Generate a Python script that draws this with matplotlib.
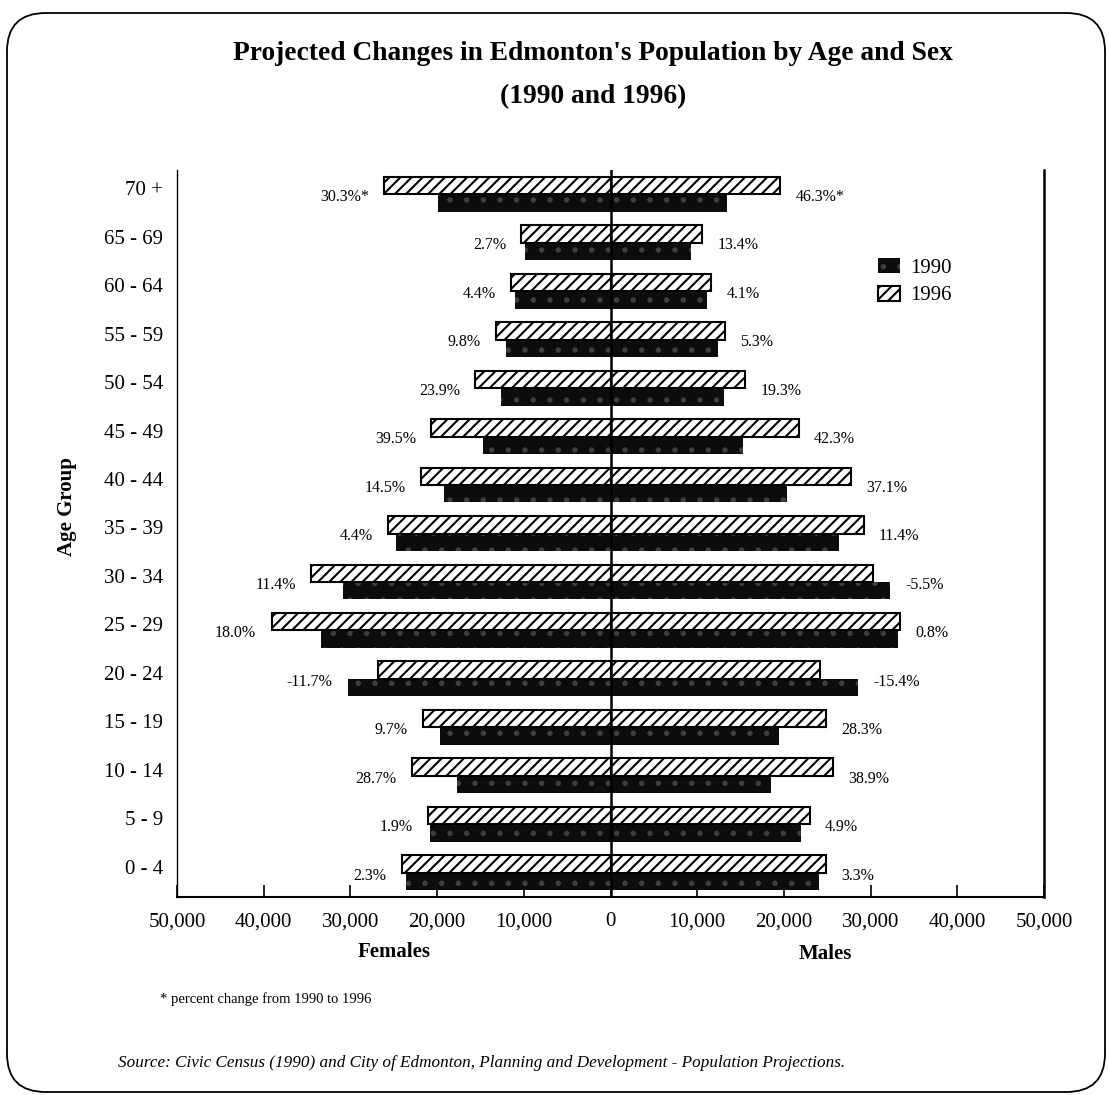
import numpy as np
import matplotlib.pyplot as plt
import matplotlib.transforms as mtransforms
from matplotlib.patches import Patch, FancyBboxPatch

plt.rcParams['font.family'] = ['Liberation Serif', 'DejaVu Serif']
plt.rcParams['hatch.linewidth'] = 1.5

W, H = 1109, 1095

# age groups listed bottom to top
age_groups = ['0 - 4', '5 - 9', '10 - 14', '15 - 19', '20 - 24', '25 - 29', '30 - 34',
              '35 - 39', '40 - 44', '45 - 49', '50 - 54', '55 - 59', '60 - 64', '65 - 69', '70 +']

female_1990 = [23600, 20800, 17700, 19700, 30300, 33400, 30900, 24700, 19200, 14700, 12600, 12000, 11000, 9900, 19900]
female_1996 = [24100, 21100, 22900, 21600, 26800, 39100, 34500, 25700, 21900, 20700, 15600, 13200, 11500, 10300, 26100]
male_1990 = [24000, 22000, 18500, 19400, 28600, 33200, 32200, 26300, 20300, 15300, 13100, 12400, 11100, 9300, 13400]
male_1996 = [24800, 23000, 25700, 24900, 24200, 33400, 30300, 29200, 27700, 21700, 15500, 13200, 11600, 10600, 19600]

female_change = ['2.3%', '1.9%', '28.7%', '9.7%', '-11.7%', '18.0%', '11.4%', '4.4%',
                 '14.5%', '39.5%', '23.9%', '9.8%', '4.4%', '2.7%', '30.3%*']
male_change = ['3.3%', '4.9%', '38.9%', '28.3%', '-15.4%', '0.8%', '-5.5%', '11.4%',
               '37.1%', '42.3%', '19.3%', '5.3%', '4.1%', '13.4%', '46.3%*']

x_ticks = [-50000, -40000, -30000, -20000, -10000, 0, 10000, 20000, 30000, 40000, 50000]


def fx(px):
    return px / W


def fy(py):
    return 1 - py / H


style_1990 = dict(facecolor='#0c0c0c', edgecolor='#3e3e3e', hatch='.', linewidth=0)
style_1996 = dict(facecolor='white', edgecolor='black', hatch='///', linewidth=1.5)

fig = plt.figure(figsize=(W / 100, H / 100), dpi=100)
ax = fig.add_axes([fx(177), fy(897), fx(1044) - fx(177), fy(170) - fy(897)])

y = np.arange(len(age_groups))
h = 0.36

f90 = np.array(female_1990)
f96 = np.array(female_1996)
m90 = np.array(male_1990)
m96 = np.array(male_1996)

ax.barh(y - h / 2, -f90, height=h, zorder=2, **style_1990)
ax.barh(y - h / 2, m90, height=h, zorder=2, **style_1990)
ax.barh(y + h / 2, -f96, height=h, zorder=3, **style_1996)
ax.barh(y + h / 2, m96, height=h, zorder=3, **style_1996)

ax.axvline(0, color='black', lw=1.8, zorder=5)

# percent change labels beside the longer bar of each pair
for i in range(len(age_groups)):
    ax.annotate(female_change[i], xy=(-max(f90[i], f96[i]), y[i]), xytext=(-11, -2),
                textcoords='offset points', ha='right', va='center', fontsize=11.5)
    ax.annotate(male_change[i], xy=(max(m90[i], m96[i]), y[i]), xytext=(11, -2),
                textcoords='offset points', ha='left', va='center', fontsize=11.5)

ax.set_xlim(-50000, 50000)
ax.set_ylim(-0.5, len(age_groups) - 0.5)

ax.set_xticks(x_ticks)
ax.set_xticklabels([f'{abs(v):,}' for v in x_ticks], fontsize=15)
ax.tick_params(axis='x', direction='in', length=9, width=1.2, pad=11)

ax.set_yticks(y)
ax.set_yticklabels(age_groups, fontsize=15)
ax.tick_params(axis='y', length=0, pad=10)
shift = mtransforms.ScaledTranslation(0, 0.06, fig.dpi_scale_trans)
for lab in ax.get_yticklabels():
    lab.set_transform(lab.get_transform() + shift)

ax.spines['top'].set_visible(False)
ax.spines['left'].set_linewidth(1.0)
ax.spines['right'].set_linewidth(1.8)
ax.spines['bottom'].set_linewidth(1.5)

ax.legend(handles=[Patch(**style_1990), Patch(**style_1996)], labels=['1990', '1996'],
          loc='upper left', bbox_to_anchor=(fx(878), fy(258)), bbox_transform=fig.transFigure,
          frameon=False, fontsize=15, handlelength=1.05, handleheight=0.7,
          handletextpad=0.5, labelspacing=0.4, borderpad=0, borderaxespad=0)

fig.text(fx(593), fy(53), "Projected Changes in Edmonton's Population by Age and Sex",
         ha='center', va='center', fontsize=19.8, fontweight='bold')
fig.text(fx(593), fy(97), '(1990 and 1996)', ha='center', va='center', fontsize=19.8, fontweight='bold')

fig.text(fx(394), fy(952), 'Females', ha='center', va='center', fontsize=15, fontweight='bold')
fig.text(fx(825), fy(954), 'Males', ha='center', va='center', fontsize=15, fontweight='bold')
fig.text(fx(67), fy(506), 'Age Group', ha='center', va='center', rotation=90,
         fontsize=15, fontweight='bold')

fig.text(fx(160), fy(999), '* percent change from 1990 to 1996', ha='left', va='center', fontsize=10.5)
fig.text(fx(118), fy(1063),
         'Source: Civic Census (1990) and City of Edmonton, Planning and Development - Population Projections.',
         ha='left', va='center', fontsize=12.3, fontstyle='italic')

# rounded frame around the page
fig.add_artist(FancyBboxPatch((fx(7), fy(1092)), fx(1105) - fx(7), fy(13) - fy(1092),
                              boxstyle='round,pad=0,rounding_size=0.035',
                              transform=fig.transFigure, fill=False, lw=1.3, ec='black'))

fig.savefig('out.png', dpi=100)
